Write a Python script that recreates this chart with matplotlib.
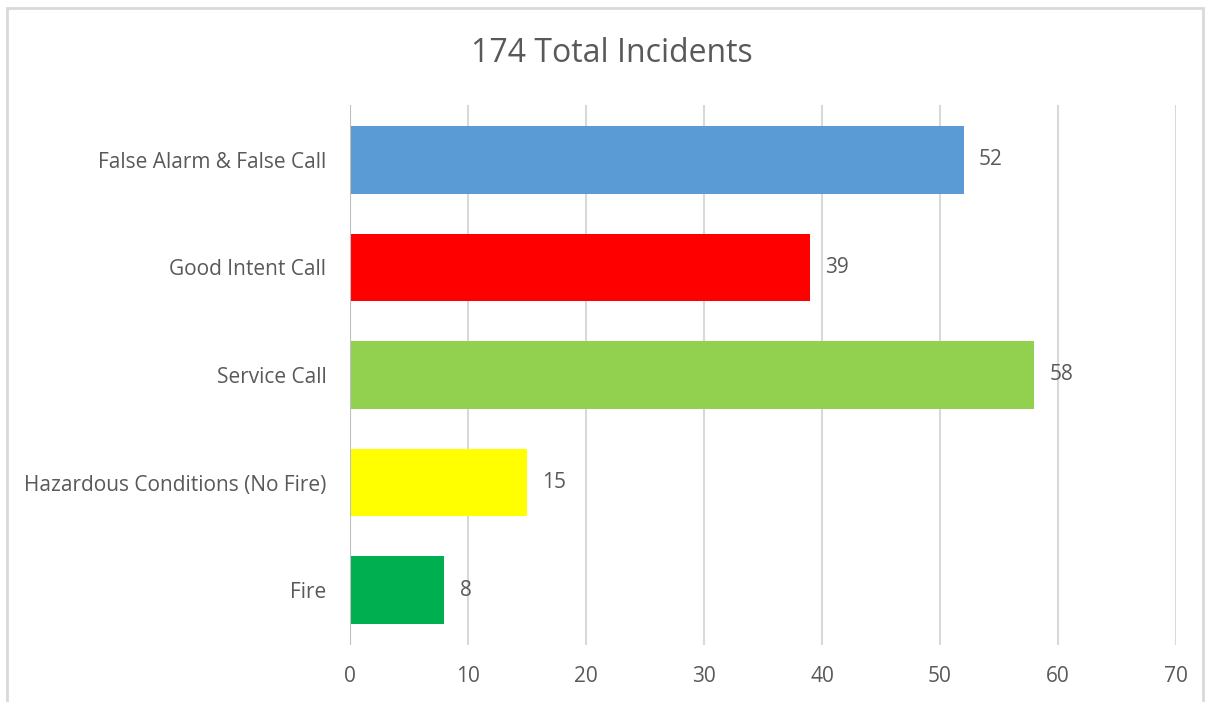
import matplotlib
matplotlib.use("Agg")
import matplotlib.pyplot as plt
from matplotlib.patches import Rectangle

categories = ["Fire", "Hazardous Conditions (No Fire)", "Service Call",
              "Good Intent Call", "False Alarm & False Call"]
values = [8, 15, 58, 39, 52]
colors = ["#00b050", "#ffff00", "#92d050", "#ff0000", "#5b9bd5"]
xticks = [0, 10, 20, 30, 40, 50, 60, 70]
title = "174 Total Incidents"

plt.rcParams['font.family'] = ['Open Sans', 'DejaVu Sans']
txt = "#595959"

W, H = 1207, 702
fig = plt.figure(figsize=(W / 100, H / 100), dpi=100)
fig.patches.append(Rectangle((7 / W, -0.05), (1203 - 7) / W, 1.05 - 8 / H,
                             transform=fig.transFigure, fill=False,
                             edgecolor="#d9d9d9", linewidth=2))

ax = fig.add_axes([350 / W, 1 - 645 / H, (1176 - 350) / W, (645 - 105) / H])
ypos = list(range(len(categories)))
ax.barh(ypos, values, height=0.63, color=colors, zorder=3)
ax.set_xlim(0, 70)
ax.set_ylim(-0.51, 4.51)
ax.set_xticks(xticks)
ax.set_xticklabels([str(t) for t in xticks])
ax.set_yticks(ypos)
ax.set_yticklabels(categories)
ax.grid(axis="x", color="#d9d9d9", linewidth=1.5, zorder=0)
for s in ax.spines.values():
    s.set_visible(False)
ax.axvline(0, color="#bfbfbf", linewidth=1.5, zorder=4)
ax.tick_params(axis="both", length=0, labelsize=15, labelcolor=txt)
ax.tick_params(axis="x", pad=15)
ax.tick_params(axis="y", pad=17)
for y, v in zip(ypos, values):
    ax.text(v + 1.3, y, str(v), va="center", ha="left", fontsize=15, color=txt)

fig.text(612 / W, 1 - 53 / H, title, ha="center", va="center",
         fontsize=23, color=txt)

fig.savefig("out.png", dpi=100)
